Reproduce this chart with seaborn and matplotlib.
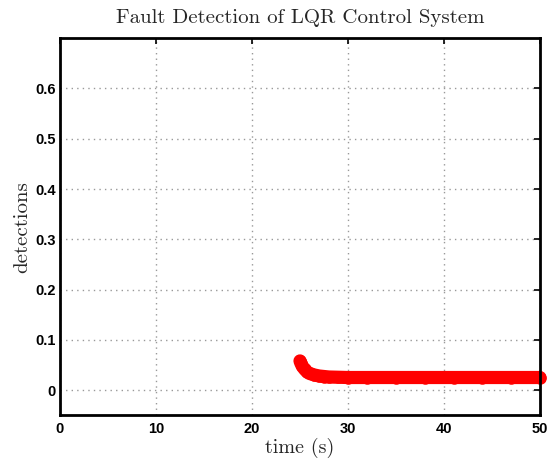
import matplotlib
matplotlib.use("Agg")
import matplotlib.pyplot as plt
import seaborn as sns
import pandas as pd

time_s = [25.0, 25.1, 25.25, 25.5, 25.75, 26.0, 26.5, 27.0, 27.5, 28.0, 29.0, 30.0,
          32.0, 35.0, 38.0, 41.0, 44.0, 47.0, 50.0]
detections = [0.058, 0.053, 0.047, 0.041, 0.036, 0.033, 0.030, 0.028, 0.027, 0.026,
              0.0255, 0.025, 0.025, 0.025, 0.025, 0.025, 0.025, 0.025, 0.025]
x_ticks = [0, 10, 20, 30, 40, 50]
y_ticks = [0, 0.1, 0.2, 0.3, 0.4, 0.5, 0.6]

df = pd.DataFrame({"time": time_s, "det": detections})

sns.set_style("white")
plt.rcParams["axes.formatter.use_mathtext"] = True

fig = plt.figure(figsize=(5.55, 4.66), dpi=100)
ax = fig.add_axes([0.108, 0.109, 0.865, 0.809])

sns.lineplot(data=df, x="time", y="det", ax=ax, color="#ff0000", linewidth=9.5,
             marker="o", markersize=9, markeredgewidth=0, solid_capstyle="round",
             clip_on=False, zorder=5)

ax.set_xlim(0, 50)
ax.set_ylim(-0.05, 0.7)
ax.set_xticks(x_ticks)
ax.set_yticks(y_ticks)
tick_font = dict(fontfamily="Liberation Sans", fontweight="bold", fontsize=10.5)
ax.set_xticklabels([str(v) for v in x_ticks], **tick_font)
ax.set_yticklabels([("0" if v == 0 else f"{v:.1f}") for v in y_ticks], **tick_font)
ax.grid(True, linestyle=(0, (1, 3)), color="#999999", linewidth=1.0)
ax.tick_params(direction="in", length=4, width=1.2, top=True, right=True, colors="black", pad=3)
ax.tick_params(axis="x", pad=5)
for s in ax.spines.values():
    s.set_linewidth(2.0)
    s.set_color("black")
    s.set_zorder(6)

ax.set_title("Fault Detection of LQR Control System", fontfamily="cmr10", fontsize=15, pad=11)
ax.set_xlabel("time (s)", fontfamily="cmr10", fontsize=14.5, labelpad=1)
ax.set_ylabel("detections", fontfamily="cmr10", fontsize=15, labelpad=3)

fig.savefig("out.png", dpi=100)
